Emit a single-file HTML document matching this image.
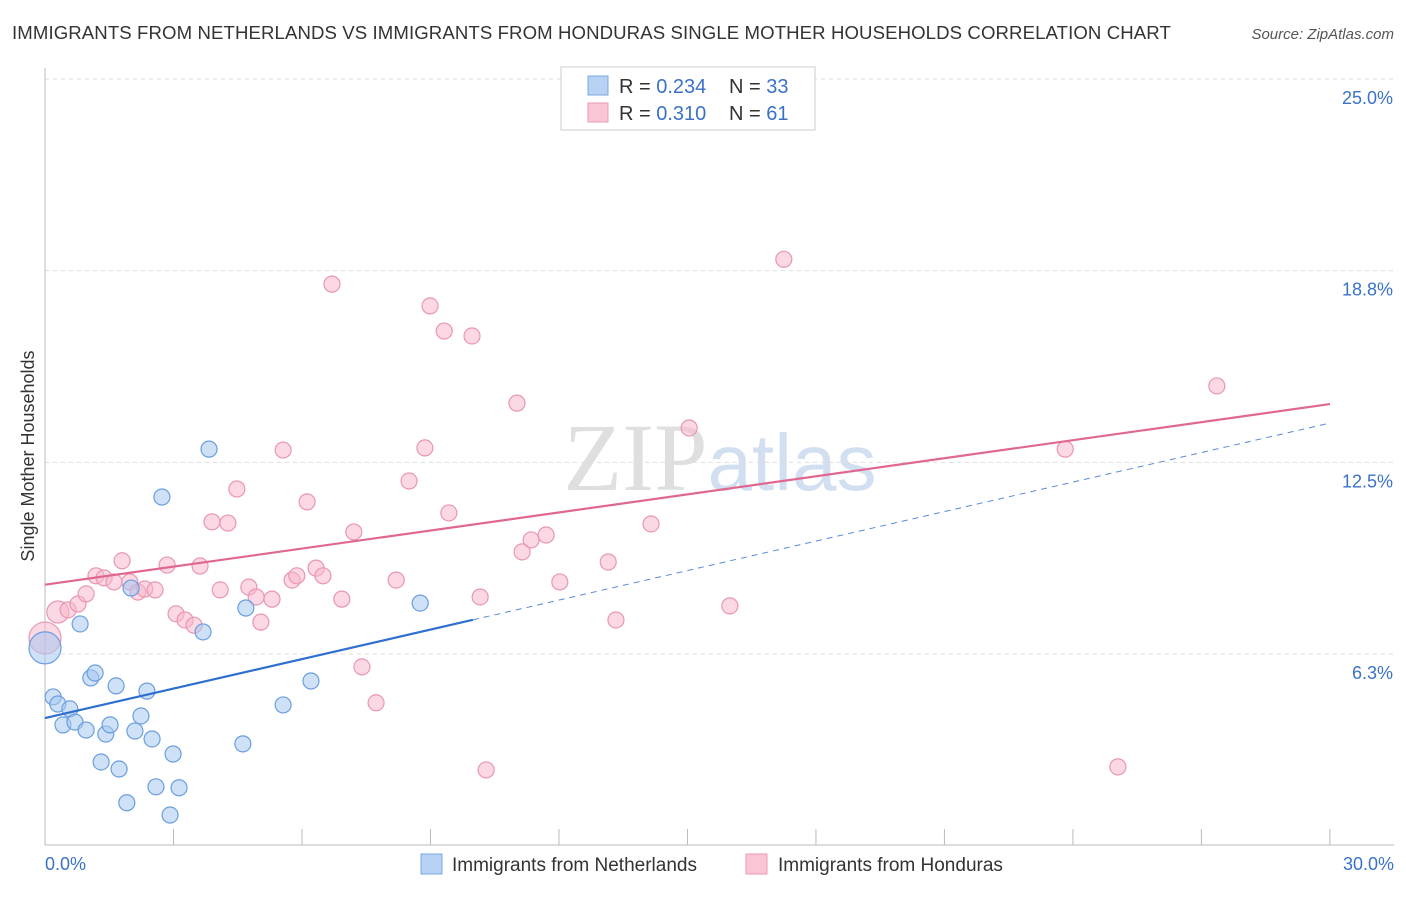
<!DOCTYPE html>
<html><head><meta charset="utf-8"><style>
body{margin:0;background:#fff;font-family:"Liberation Sans",sans-serif;}
svg text{font-family:"Liberation Sans",sans-serif;}
</style></head><body>
<svg id="chart" width="1406" height="892" xmlns="http://www.w3.org/2000/svg">
<text x="12" y="39" font-size="18.6" fill="#333" letter-spacing="0.1">IMMIGRANTS FROM NETHERLANDS VS IMMIGRANTS FROM HONDURAS SINGLE MOTHER HOUSEHOLDS CORRELATION CHART</text>
<text x="1394" y="39" font-size="15" fill="#555" text-anchor="end" font-style="italic">Source: ZipAtlas.com</text>
<text x="720" y="490" font-size="96" text-anchor="middle" fill="#ddd" opacity="0.8"><tspan font-family="Liberation Serif" fill="#d8d8d8">ZIP</tspan><tspan fill="#c8d8ee" font-size="80">atlas</tspan></text>
<text transform="translate(34,456) rotate(-90)" font-size="18" fill="#333" text-anchor="middle">Single Mother Households</text>
<g id="grid"></g><g id="axes"></g><g id="marks"></g>
<g>
<rect x="561" y="67" width="254" height="63" fill="#fff" stroke="#ccc"/>
<rect x="588" y="76" width="20" height="19" fill="#b8d2f4" stroke="#7aa8e0"/>
<rect x="588" y="103" width="20" height="19" fill="#f9c6d6" stroke="#ea9ab4"/>
<text x="619" y="93" font-size="20" fill="#333">R = <tspan fill="#3a72c8">0.234</tspan></text>
<text x="729" y="93" font-size="20" fill="#333">N = <tspan fill="#3a72c8">33</tspan></text>
<text x="619" y="120" font-size="20" fill="#333">R = <tspan fill="#3a72c8"> 0.310</tspan></text>
<text x="729" y="120" font-size="20" fill="#333">N = <tspan fill="#3a72c8"> 61</tspan></text>
</g>
<g>
<rect x="421" y="854" width="21" height="20" fill="#b8d2f4" stroke="#7aa8e0"/>
<text x="452" y="871" font-size="19" fill="#333">Immigrants from Netherlands</text>
<rect x="746" y="854" width="21" height="20" fill="#f9c6d6" stroke="#ea9ab4"/>
<text x="778" y="871" font-size="19" fill="#333">Immigrants from Honduras</text>
</g>
</svg>
<script>
const blueX=[0,0.19,0.30,0.58,0.42,0.70,0.96,0.82,1.07,1.17,1.42,1.52,1.31,1.66,1.73,2.01,1.91,2.10,2.24,2.38,2.50,2.59,2.73,2.99,2.92,3.13,3.69,3.83,4.62,4.69,5.56,6.21,8.76];
const blueY=[6.45,4.85,4.62,4.46,3.94,4.03,3.77,7.23,5.47,5.63,3.64,3.94,2.73,5.21,2.50,8.40,1.40,3.74,4.23,5.04,3.48,1.92,11.37,2.99,1.00,1.89,6.97,12.93,3.32,7.75,4.59,5.37,7.91];
const pinkX=[0,0.30,0.54,0.77,0.96,1.19,1.38,1.61,1.80,1.98,2.17,2.33,2.57,2.85,3.06,3.27,3.48,3.62,3.90,4.09,4.27,4.48,4.76,4.93,5.04,5.30,5.56,5.77,5.88,6.12,6.33,6.49,6.70,6.93,7.21,7.40,7.73,8.20,8.50,8.87,8.99,9.32,9.43,9.97,10.16,10.30,11.02,11.14,11.35,11.70,12.02,13.15,13.33,14.15,14.55,15.04,15.99,17.25,23.82,25.05,27.36];
const pinkY=[6.77,7.62,7.69,7.88,8.21,8.80,8.73,8.60,9.29,8.60,8.27,8.37,8.34,9.15,7.56,7.36,7.19,9.12,10.56,8.34,10.52,11.63,8.43,8.11,7.29,8.04,12.90,8.66,8.80,11.21,9.05,8.80,18.31,8.04,10.23,5.83,4.66,8.66,11.89,12.97,17.60,16.78,10.85,16.62,8.11,2.47,14.43,9.58,9.97,10.13,8.60,9.25,7.36,10.49,24.47,13.62,7.82,19.12,12.93,2.57,14.99];
const blueTrend=[4.16,13.78];
const pinkTrend=[8.51,14.40];
const yTicks=[25,18.75,12.5,6.25];
const yTickLabels=["25.0%","18.8%","12.5%","6.3%"];
const xTicks=[0,3,6,9,12,15,18,21,24,27,30];
const NS="http://www.w3.org/2000/svg";
const sx=v=>45+v*42.83, sy=v=>845.7-v*30.67;
function mk(tag,attrs,parent){const e=document.createElementNS(NS,tag);for(const k in attrs)e.setAttribute(k,attrs[k]);document.getElementById(parent).appendChild(e);return e;}
yTicks.forEach((t,i)=>{
 const g=mk('line',{x1:45,x2:1394,y1:sy(t),y2:sy(t),stroke:'#ddd','stroke-dasharray':'4,4'},'grid');
 
 
 const l=mk('text',{x:1393,y:sy(t)+25,'font-size':18,fill:'#3a72c8','text-anchor':'end'},'axes');
 l.textContent=yTickLabels[i];
 
 
});
const ax=mk('line',{x1:45,x2:45,y1:68,y2:845,stroke:'#bbb'},'axes');


const bx=mk('line',{x1:45,x2:1394,y1:845,y2:845,stroke:'#bbb'},'axes');


xTicks.forEach(t=>{
 const k=mk('line',{x1:sx(t),x2:sx(t),y1:829,y2:845,stroke:'#bbb'},'axes');
 
 
});
const x0=mk('text',{x:45,y:870,'font-size':18,fill:'#3a72c8'},'axes');x0.textContent='0.0%';


const x1=mk('text',{x:1394,y:870,'font-size':18,fill:'#3a72c8','text-anchor':'end'},'axes');x1.textContent='30.0%';


function pt(x,y,fill,stroke,r,name){
 const c=mk('circle',{cx:sx(x),cy:sy(y),r:r,fill:fill,'fill-opacity':0.55,stroke:stroke,'stroke-width':1.2},'marks');
 
 
}
pinkX.forEach((x,i)=>pt(x,pinkY[i],'#f7b8cc','#e996b2',i===0?16:(i===1?11:8),'honduras-point'));
blueX.forEach((x,i)=>pt(x,blueY[i],'#a8c8f0','#6a9ee0',i===0?16:8,'netherlands-point'));
const bxEnd=9.99;
const bl=mk('line',{x1:sx(0),y1:sy(blueTrend[0]),x2:sx(bxEnd),y2:sy(blueTrend[0]+(blueTrend[1]-blueTrend[0])*bxEnd/30),stroke:'#2f6fd0','stroke-width':2.2},'marks');


const bd=mk('line',{x1:sx(bxEnd),y1:sy(blueTrend[0]+(blueTrend[1]-blueTrend[0])*bxEnd/30),x2:sx(30),y2:sy(blueTrend[1]),stroke:'#5a8ad8','stroke-width':1,'stroke-dasharray':'6,5'},'marks');


const pl=mk('line',{x1:sx(0),y1:sy(pinkTrend[0]),x2:sx(30),y2:sy(pinkTrend[1]),stroke:'#e06890','stroke-width':2.2},'marks');


</script>
</body></html>
